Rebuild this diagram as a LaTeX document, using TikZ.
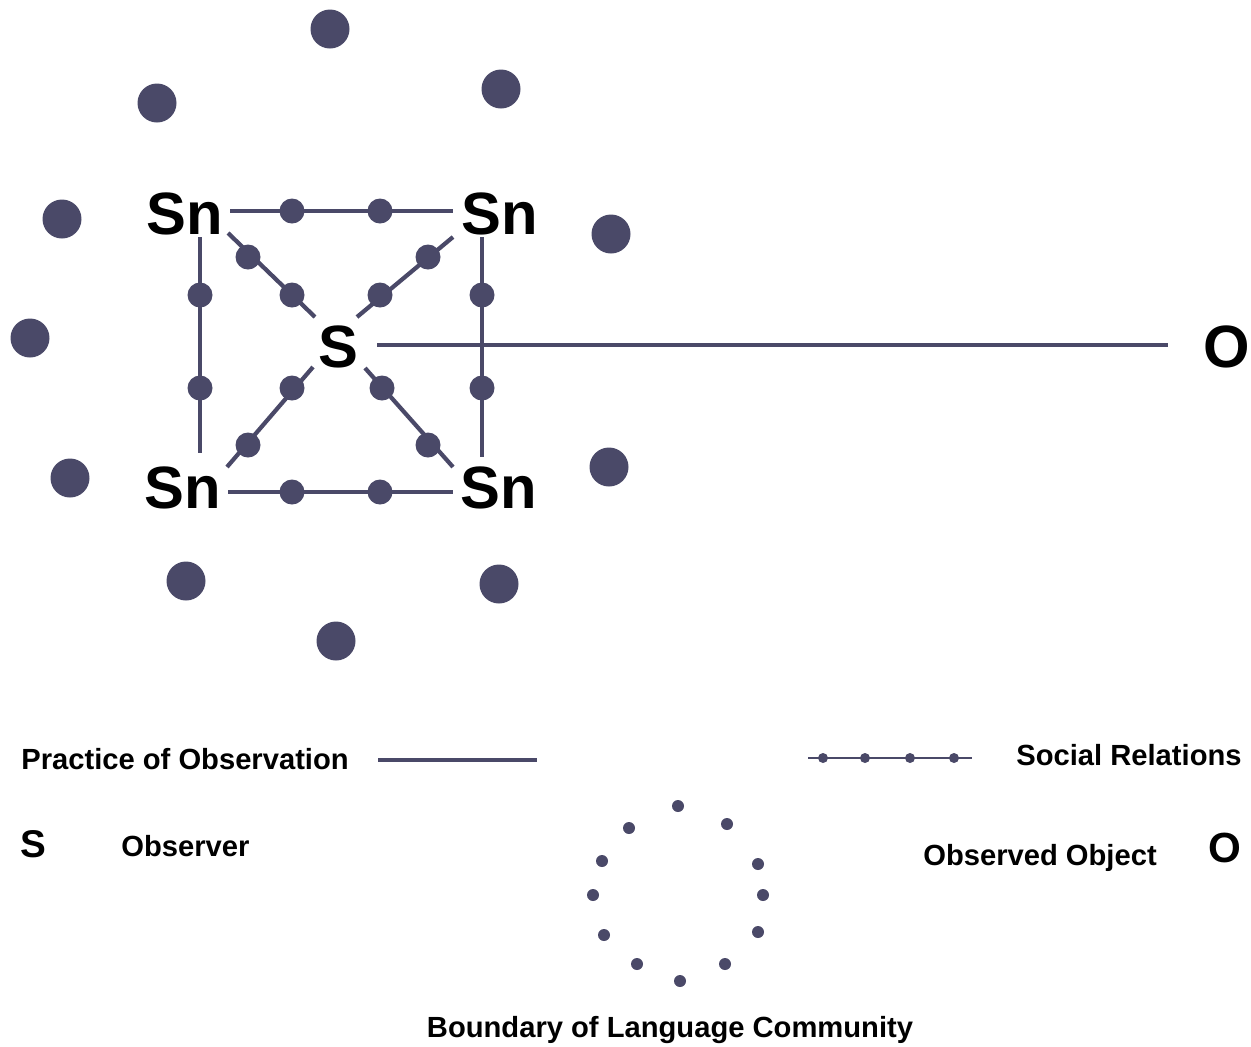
\documentclass[tikz,border=0pt]{standalone}
\usepackage{fontspec}
\setmainfont{Liberation Sans}
\begin{document}
\definecolor{ink}{RGB}{74,73,104}
\begin{tikzpicture}[x=0.02cm, y=-0.02cm,
  bigdot/.style={circle, fill=ink, inner sep=0pt, minimum size=39*0.02cm},
  reldot/.style={circle, fill=ink, inner sep=0pt, minimum size=25*0.02cm},
  smalldot/.style={circle, fill=ink, inner sep=0pt, minimum size=12*0.02cm},
  legdot/.style={circle, fill=ink, inner sep=0pt, minimum size=10*0.02cm},
  relline/.style={draw=ink, line width=2.4pt},
  obsline/.style={draw=ink, line width=2.4pt},
  biglabel/.style={inner sep=0pt, anchor=base west, font=\fontsize{34}{38}\selectfont\bfseries},
  leglabel/.style={inner sep=0pt, anchor=base west, font=\fontsize{16.6}{20}\selectfont\bfseries}]
\useasboundingbox (0,0) rectangle (1251,1046);

% community members around the group
\foreach \x/\y [count=\i] in {330/29, 501/89, 157/103, 62/219, 611/234, 30/338,
    70/478, 609/467, 186/581, 499/584, 336/641}
  \node[bigdot] (m\i) at (\x,\y) {};

% subjects and observer
\node[biglabel] (snTL) at (146,234) {Sn};
\node[biglabel] (snTR) at (461,234) {Sn};
\node[biglabel] (snBL) at (144,508) {Sn};
\node[biglabel] (snBR) at (460,508) {Sn};
\node[biglabel] (s) at (318,367) {S};
\node[biglabel] (o) at (1203,367) {O};

% ends of the relation lines
\coordinate (th1) at (230,211); \coordinate (th2) at (453,211);
\coordinate (bh1) at (228,492); \coordinate (bh2) at (453,492);
\coordinate (lv1) at (200,237); \coordinate (lv2) at (200,453);
\coordinate (rv1) at (482,237); \coordinate (rv2) at (482,457);
\coordinate (d11) at (228,233); \coordinate (d12) at (315,317);
\coordinate (d21) at (453,237); \coordinate (d22) at (357,317);
\coordinate (d31) at (313,367); \coordinate (d32) at (227,467);
\coordinate (d41) at (365,368); \coordinate (d42) at (453,467);
\coordinate (ob1) at (377,345); \coordinate (ob2) at (1168,345);

% practice of observation
\draw[obsline] (ob1) -- (ob2);

% social relations
\draw[relline] (th1) -- (th2);
\draw[relline] (bh1) -- (bh2);
\draw[relline] (lv1) -- (lv2);
\draw[relline] (rv1) -- (rv2);
\draw[relline] (d11) -- (d12);
\draw[relline] (d21) -- (d22);
\draw[relline] (d31) -- (d32);
\draw[relline] (d41) -- (d42);

\foreach \x/\y [count=\i] in {292/211, 380/211, 292/492, 380/492,
    200/295, 200/388, 482/295, 482/388,
    248/257, 292/295, 428/257, 380/295,
    292/388, 248/445, 382/388, 428/445}
  \node[reldot] (r\i) at (\x,\y) {};

% legend
\node[leglabel] (lpo) at (21,769) {Practice of Observation};
\coordinate (lp1) at (378,760); \coordinate (lp2) at (537,760);
\draw[draw=ink, line width=1.8pt] (lp1) -- (lp2);

\coordinate (ls1) at (808,758); \coordinate (ls2) at (972,758);
\draw[draw=ink, line width=1.1pt] (ls1) -- (ls2);
\foreach \x [count=\i] in {823,865,910,954}
  \node[legdot] (lsd\i) at (\x,758) {};
\node[leglabel] (lsr) at (1016,765) {Social Relations};

\node[inner sep=0pt, anchor=base west, font=\fontsize{22}{26}\selectfont\bfseries] (ls) at (20,857) {S};
\node[leglabel] (lobs) at (121,856) {Observer};

\node[leglabel] (lobj) at (923,865) {Observed Object};
\node[inner sep=0pt, anchor=base west, font=\fontsize{24}{28}\selectfont\bfseries] (lo) at (1208,862) {O};

% boundary of the language community
\foreach \x/\y [count=\i] in {678/806, 727/824, 758/864, 763/895, 758/932, 725/964,
    680/981, 637/964, 604/935, 593/895, 602/861, 629/828}
  \node[smalldot] (b\i) at (\x,\y) {};
\node[leglabel, anchor=base] (lblc) at (670,1037) {Boundary of Language Community};
\end{tikzpicture}
\end{document}
